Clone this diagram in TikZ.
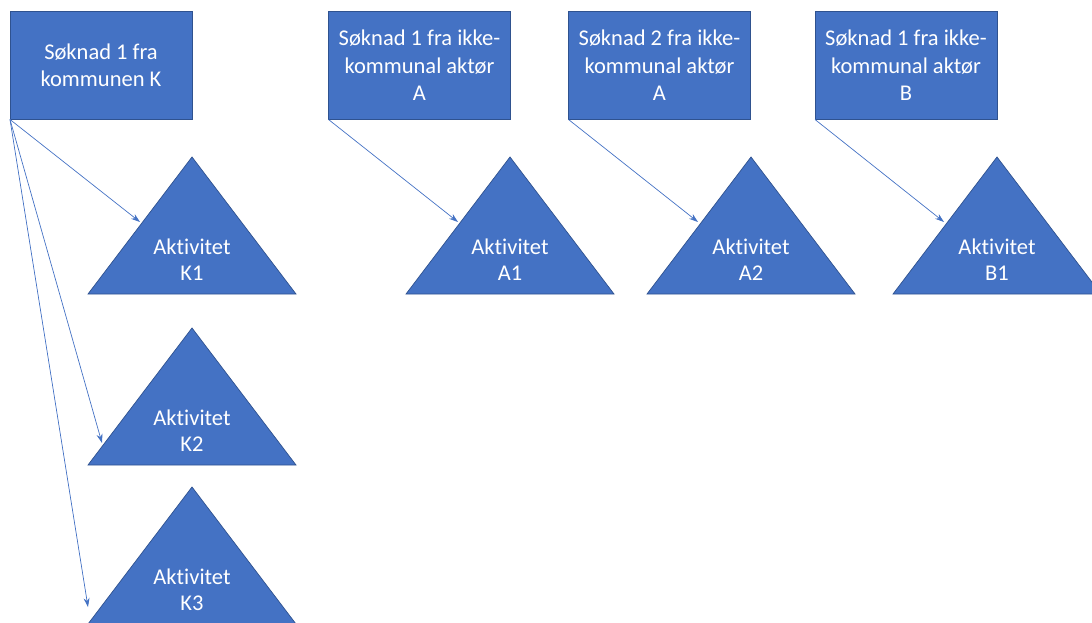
\documentclass[tikz,border=0pt]{standalone}
\usepackage{fontspec}
\setmainfont{Carlito}[Ligatures=NoCommon]
\usepackage{xcolor}
\usetikzlibrary{positioning, calc, arrows.meta}

\definecolor{boxblue}{HTML}{4472C4}
\definecolor{boxedge}{HTML}{2F528F}

\tikzset{
  soknad/.style={rectangle, fill=boxblue, draw=boxedge, line width=0.7pt,
    minimum width=182pt, minimum height=108pt, outer sep=0pt,
    align=center, text=white, font=\fontsize{22.5}{27.5}\selectfont},
  akttext/.style={align=center, text=white, font=\fontsize{22.5}{26}\selectfont},
  aktiv/.style={fill=boxblue, draw=boxedge, line width=0.7pt},
  pil/.style={-{Stealth[length=9pt,width=6pt]}, draw=boxblue, line width=0.7pt}
}

\begin{document}
\begin{tikzpicture}[x=1pt, y=-1pt]
\useasboundingbox (0,0) rectangle (1092,623);
% application boxes
\node[soknad] (sK)  at (101,65.5)   {Søknad 1 fra\\kommunen K};
\node[soknad] (sA1) at (419.5,65.5) {Søknad 1 fra ikke-\\kommunal aktør\\A};
\node[soknad] (sA2) at (659.5,65.5) {Søknad 2 fra ikke-\\kommunal aktør\\A};
\node[soknad] (sB)  at (906,65.5)   {Søknad 1 fra ikke-\\kommunal aktør\\B};

% activity triangles: apex x/y, arrow end offset from apex
\foreach \nm/\x/\y/\dx/\dy in {K1/192/157/-52/65, K2/192/328/-90/115, K3/192/487/-104/120,
                              A1/510/157/-52/65, A2/751/157/-53/65, B1/997/157/-53/65} {
  \draw[aktiv] (\x,\y) -- ++(104,137) -- ++(-208,0) -- cycle;
  \node[akttext] (a\nm) at (\x,\y+103) {Aktivitet\\\nm};
  \coordinate (in\nm) at (\x+\dx,\y+\dy);
}

% connectors
\foreach \t in {K1,K2,K3}
  \draw[pil] (sK.south west) -- (in\t);
\draw[pil] (sA1.south west) -- (inA1);
\draw[pil] (sA2.south west) -- (inA2);
\draw[pil] (sB.south west) -- (inB1);
\end{tikzpicture}
\end{document}
